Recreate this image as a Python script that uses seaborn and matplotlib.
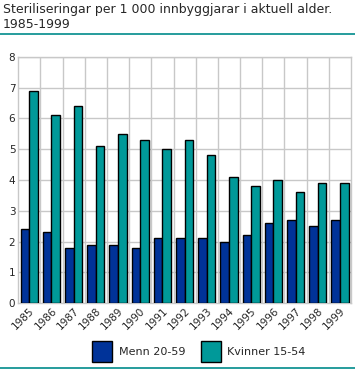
import numpy as np
import pandas as pd
import matplotlib
matplotlib.use("Agg")
import matplotlib.pyplot as plt
import seaborn as sns
from matplotlib.lines import Line2D
from matplotlib.patches import Patch

# Data
years = [str(y) for y in range(1985, 2000)]
menn = [2.4, 2.3, 1.8, 1.9, 1.9, 1.8, 2.1, 2.1, 2.1, 2.0, 2.2, 2.6, 2.7, 2.5, 2.7]
kvinner = [6.9, 6.1, 6.4, 5.1, 5.5, 5.3, 5.0, 5.3, 4.8, 4.1, 3.8, 4.0, 3.6, 3.9, 3.9]
series_names = ["Menn 20-59", "Kvinner 15-54"]
colors = ["#003399", "#009999"]

df = pd.DataFrame({
    "year": years * 2,
    "value": menn + kvinner,
    "group": [series_names[0]] * len(years) + [series_names[1]] * len(years),
})

sns.set_style("white")
plt.rcParams["font.family"] = ["DejaVu Sans"]

fig = plt.figure(figsize=(3.55, 3.70), dpi=100)
ax = fig.add_axes([0.051, 0.181, 0.938, 0.665])

sns.barplot(data=df, x="year", y="value", hue="group", palette=colors,
            saturation=1, width=0.77, edgecolor="black", linewidth=1,
            ax=ax, legend=False, zorder=3)

ax.set_ylim(0, 8)
ax.set_xlim(-0.5, len(years) - 0.5)
ax.set_yticks(range(0, 9))
ax.set_xlabel("")
ax.set_ylabel("")

# grid: horizontal at integers, vertical at category boundaries
for yv in range(1, 9):
    ax.axhline(yv, color="#c8c8c8", lw=1, zorder=0)
for xv in np.arange(0.5, len(years) - 0.5, 1):
    ax.axvline(xv, color="#c8c8c8", lw=1, zorder=0)
for s in ax.spines.values():
    s.set_color("#c8c8c8")
    s.set_linewidth(1)

ax.tick_params(axis="both", length=0, labelsize=7.5, pad=2)
plt.setp(ax.get_xticklabels(), rotation=45, ha="right", rotation_mode="anchor")

# title and rules
fig.text(0.008, 0.993, "Steriliseringar per 1 000 innbyggjarar i aktuell alder.",
         fontsize=9, va="top", ha="left")
fig.text(0.008, 0.950, "1985-1999", fontsize=9, va="top", ha="left")
fig.add_artist(Line2D([0, 1], [0.909, 0.909], color="#008b8b", lw=1.2))
fig.add_artist(Line2D([0, 1], [0.006, 0.006], color="#008b8b", lw=1.2))

handles = [Patch(facecolor=c, edgecolor="black", lw=1) for c in colors]
fig.legend(handles, series_names, loc="center", bbox_to_anchor=(0.56, 0.05),
           ncol=2, frameon=False, fontsize=8, handlelength=1.8, handleheight=2.6,
           handletextpad=0.6, columnspacing=1.4)

fig.savefig("out.png", dpi=100)
